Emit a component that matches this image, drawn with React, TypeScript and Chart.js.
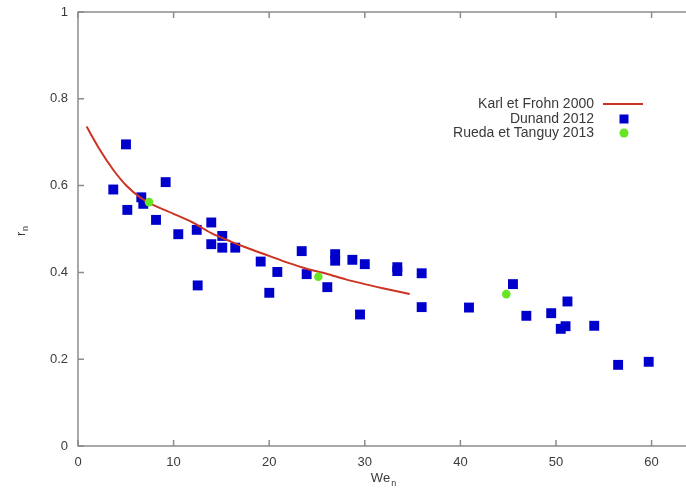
import React, { useEffect, useRef } from 'react';
import { Chart, registerables } from 'chart.js';

Chart.register(...registerables);

// Karl et Frohn 2000 (curve)
const karlX = [0.9, 2.3, 3.7, 5.1, 6.5, 7.9, 10, 12, 14, 16, 18, 20, 22, 24, 26, 28, 30, 32, 34.7];
const karlY = [0.736, 0.682, 0.636, 0.599, 0.573, 0.555, 0.535, 0.515, 0.49, 0.471, 0.454, 0.438, 0.422, 0.408, 0.397, 0.384, 0.373, 0.363, 0.35];

// Dunand 2012
const dunandX = [3.69, 5.02, 5.16, 6.62, 6.83, 8.16, 9.17, 10.49, 12.42, 12.52, 13.94, 13.94, 15.09, 15.09, 16.45, 19.11, 20.01, 20.85, 23.4, 23.92, 26.08, 26.9, 26.9, 28.7, 29.5, 30.0, 33.4, 33.4, 35.95, 35.95, 40.9, 45.5, 46.9, 49.5, 50.5, 51.0, 51.2, 54.0, 56.5, 59.7];
const dunandY = [0.591, 0.695, 0.544, 0.573, 0.558, 0.521, 0.608, 0.488, 0.498, 0.37, 0.515, 0.465, 0.484, 0.457, 0.457, 0.425, 0.353, 0.401, 0.449, 0.396, 0.366, 0.442, 0.427, 0.429, 0.303, 0.419, 0.412, 0.403, 0.398, 0.32, 0.319, 0.373, 0.3, 0.306, 0.27, 0.276, 0.333, 0.277, 0.187, 0.194];

// Rueda et Tanguy 2013
const ruedaX = [7.43, 25.14, 44.8];
const ruedaY = [0.562, 0.39, 0.35];

const xTicks = [0, 10, 20, 30, 40, 50, 60];
const yTicks = [0, 0.2, 0.4, 0.6, 0.8, 1];
const xMax = 63.6;
const legendLabels = ['Karl et Frohn 2000', 'Dunand 2012', 'Rueda et Tanguy 2013'];

const RED = '#cc3322';
const BLUE = '#0000cc';
const GREEN = '#66e622';
const FRAME = '#8c8c8c';
const TEXT = '#3a3a3a';
const FONT = '"Liberation Sans", Arial, Helvetica, sans-serif';

const zip = (xs: number[], ys: number[]) => xs.map((x, i) => ({ x, y: ys[i] }));

const decorPlugin = {
  id: 'decor',
  afterDatasetsDraw(chart: any) {
    const ctx = chart.ctx as CanvasRenderingContext2D;
    const { left, right, top, bottom } = chart.chartArea;
    const xs = chart.scales.x;
    const ys = chart.scales.y;
    ctx.save();
    // frame
    ctx.strokeStyle = FRAME;
    ctx.lineWidth = 1.5;
    ctx.beginPath();
    ctx.moveTo(right + 2, top);
    ctx.lineTo(left, top);
    ctx.lineTo(left, bottom);
    ctx.lineTo(right + 2, bottom);
    ctx.stroke();
    // inward ticks
    ctx.beginPath();
    xTicks.forEach((v) => {
      const px = xs.getPixelForValue(v);
      ctx.moveTo(px, bottom);
      ctx.lineTo(px, bottom - 6);
      ctx.moveTo(px, top);
      ctx.lineTo(px, top + 6);
    });
    yTicks.forEach((v) => {
      const py = ys.getPixelForValue(v);
      ctx.moveTo(left, py);
      ctx.lineTo(left + 6, py);
    });
    ctx.stroke();

    // axis titles with subscripts
    ctx.fillStyle = TEXT;
    ctx.textBaseline = 'middle';
    ctx.textAlign = 'left';
    ctx.font = `13px ${FONT}`;
    const weW = ctx.measureText('We').width;
    const wx = 384 - (weW + 7) / 2;
    ctx.fillText('We', wx, 478);
    ctx.font = `9px ${FONT}`;
    ctx.fillText('n', wx + weW + 1, 484);

    ctx.save();
    ctx.translate(21, (top + bottom) / 2 + 2);
    ctx.rotate(-Math.PI / 2);
    ctx.font = `13px ${FONT}`;
    ctx.fillText('r', -5, 0);
    ctx.font = `9px ${FONT}`;
    ctx.fillText('n', 0, 5);
    ctx.restore();

    // legend
    ctx.font = `14px ${FONT}`;
    ctx.textAlign = 'right';
    const lx = 594;
    const ly = [104, 119, 133];
    legendLabels.forEach((t, i) => ctx.fillText(t, lx, ly[i]));
    ctx.strokeStyle = RED;
    ctx.lineWidth = 2;
    ctx.beginPath();
    ctx.moveTo(603, ly[0]);
    ctx.lineTo(643, ly[0]);
    ctx.stroke();
    ctx.fillStyle = BLUE;
    ctx.fillRect(624 - 4.5, ly[1] - 4.5, 9, 9);
    ctx.fillStyle = GREEN;
    ctx.beginPath();
    ctx.arc(624, ly[2], 4.5, 0, Math.PI * 2);
    ctx.fill();
    ctx.restore();
  },
};

export default function App() {
  const ref = useRef<HTMLCanvasElement | null>(null);
  useEffect(() => {
    if (!ref.current) return;
    const chart = new Chart(ref.current, {
      type: 'scatter',
      data: {
        datasets: [
          {
            label: legendLabels[2],
            data: zip(ruedaX, ruedaY),
            pointStyle: 'circle',
            pointRadius: 4.3,
            pointBackgroundColor: GREEN,
            pointBorderWidth: 0,
            order: 0,
          },
          {
            label: legendLabels[0],
            data: zip(karlX, karlY),
            showLine: true,
            borderColor: RED,
            borderWidth: 2,
            pointRadius: 0,
            tension: 0.3,
            order: 1,
          },
          {
            label: legendLabels[1],
            data: zip(dunandX, dunandY),
            pointStyle: 'rect',
            pointRadius: 7,
            pointBackgroundColor: BLUE,
            pointBorderWidth: 0,
            order: 2,
          },
        ],
      },
      options: {
        responsive: false,
        animation: false,
        devicePixelRatio: 1,
        layout: { autoPadding: false, padding: { top: 12, left: 0, right: 0, bottom: 0 } },
        plugins: { legend: { display: false }, tooltip: { enabled: false } },
        scales: {
          x: {
            type: 'linear',
            min: 0,
            max: xMax,
            afterBuildTicks: (s: any) => {
              s.ticks = xTicks.map((v) => ({ value: v }));
            },
            afterFit: (s: any) => {
              s.height = 43;
              s.paddingLeft = 0;
              s.paddingRight = 0;
              s.paddingTop = 0;
              s.paddingBottom = 0;
            },
            grid: { display: false, drawTicks: false },
            border: { display: false },
            ticks: {
              padding: 9,
              color: TEXT,
              font: { family: FONT, size: 13 },
              maxRotation: 0,
            },
          },
          y: {
            type: 'linear',
            min: 0,
            max: 1,
            afterBuildTicks: (s: any) => {
              s.ticks = yTicks.map((v) => ({ value: v }));
            },
            afterFit: (s: any) => {
              s.width = 78;
              s.paddingLeft = 0;
              s.paddingRight = 0;
              s.paddingTop = 0;
              s.paddingBottom = 0;
            },
            grid: { display: false, drawTicks: false },
            border: { display: false },
            ticks: {
              padding: 10,
              color: TEXT,
              font: { family: FONT, size: 13 },
              callback: (v: any) => String(Math.round(Number(v) * 10) / 10),
            },
          },
        },
      },
      plugins: [decorPlugin],
    });
    return () => chart.destroy();
  }, []);
  return (
    <div style={{ position: 'fixed', left: 0, top: 0, width: 686, height: 489, background: '#fff' }}>
      <canvas ref={ref} width={686} height={489} style={{ display: 'block' }} />
    </div>
  );
}
